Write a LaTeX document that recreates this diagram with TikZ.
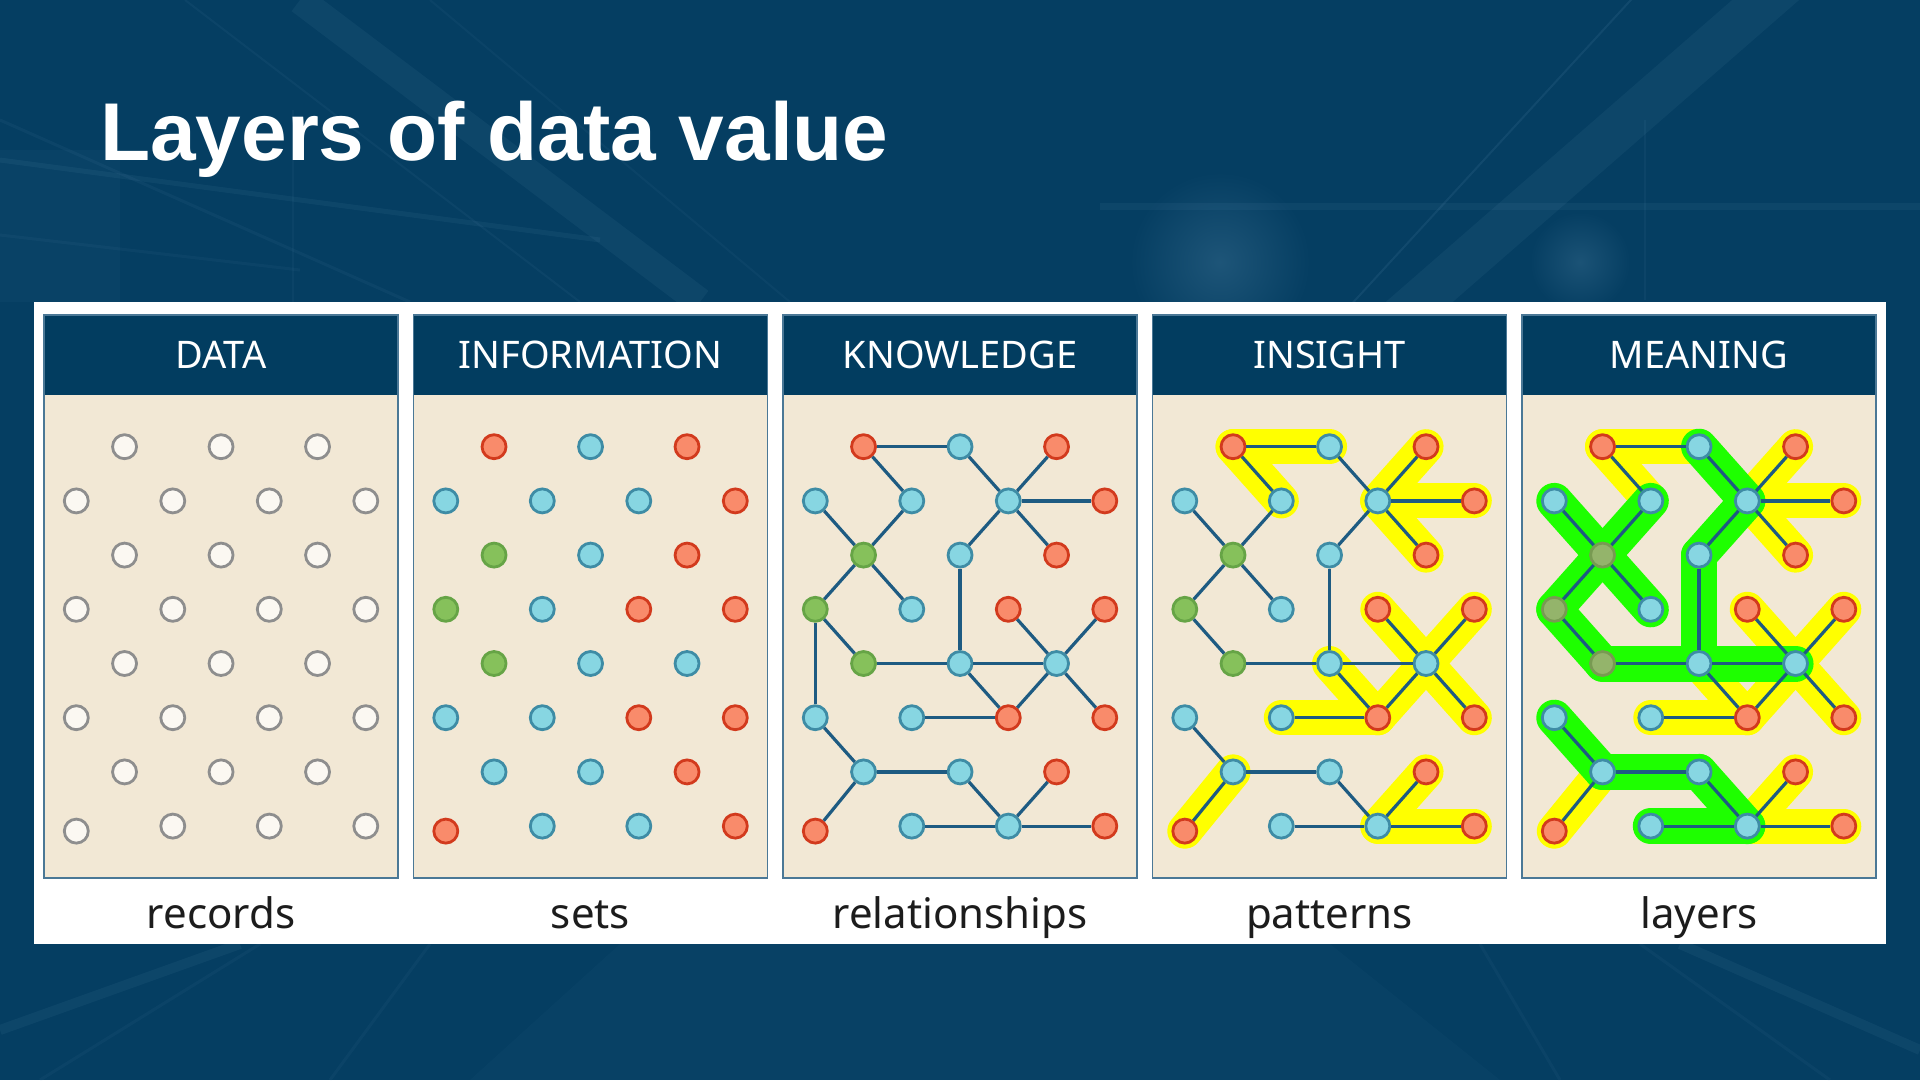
\documentclass[tikz,border=0pt]{standalone}
\usepackage{fontspec}
\setmainfont{Noto Sans}
\newfontfamily\titlefont{Liberation Sans}
\definecolor{bgblue}{HTML}{053E62}
\definecolor{streakc}{HTML}{7FB0D0}
\definecolor{hdr}{HTML}{023D60}
\definecolor{paper}{HTML}{F2E8D5}
\definecolor{framec}{HTML}{4B7896}
\definecolor{edgec}{HTML}{1E5B82}
\definecolor{bfill}{HTML}{87D6E2}
\definecolor{bline}{HTML}{3E8CA5}
\definecolor{rfill}{HTML}{F98B6B}
\definecolor{rline}{HTML}{D23A1D}
\definecolor{gfill}{HTML}{86C15B}
\definecolor{gline}{HTML}{66A446}
\definecolor{ofill}{HTML}{94B46B}
\definecolor{oline}{HTML}{789A52}
\definecolor{wfill}{HTML}{FBF8F2}
\definecolor{wline}{HTML}{8E8E8E}
\definecolor{hly}{HTML}{FFFF00}
\definecolor{hlg}{HTML}{1EFF00}
\definecolor{labc}{HTML}{1C1C1C}
\pgfdeclarelayer{panelbg}
\pgfdeclarelayer{hlA}
\pgfdeclarelayer{hlB}
\pgfsetlayers{panelbg,hlA,hlB,main}
\tikzset{
  dot/.style={circle, minimum size=24pt, inner sep=0pt, line width=2.8pt, draw},
  dotw/.style={dot, fill=wfill, draw=wline},
  dotb/.style={dot, fill=bfill, draw=bline},
  dotr/.style={dot, fill=rfill, draw=rline},
  dotg/.style={dot, fill=gfill, draw=gline},
  link/.style={draw=edgec, line width=3.2pt},
  hlyel/.style={draw=hly, line width=35pt, line cap=round, line join=round},
  hlgrn/.style={draw=hlg, line width=36pt, line cap=round, line join=round},
  hdrtext/.style={text=white, font=\fontsize{38}{40}\selectfont, anchor=base, inner sep=0pt},
  labtext/.style={text=labc, font=\fontsize{42}{44}\selectfont, anchor=base, inner sep=0pt},
  streak/.style={draw=streakc, line cap=butt},
}
\def\nodelist{0/1/r,0/3/b,0/5/r,1/0/b,1/2/b,1/4/b,1/6/r,2/1/g,2/3/b,2/5/r,3/0/g,3/2/b,3/4/r,3/6/r,4/1/g,4/3/b,4/5/b,5/0/b,5/2/b,5/4/r,5/6/r,6/1/b,6/3/b,6/5/r,7/0/r,7/2/b,7/4/b,7/6/r}
\def\edgelist{r0c1/r0c3,r0c1/r1c2,r0c3/r1c4,r1c4/r0c5,r1c4/r1c6,r1c4/r2c5,r1c4/r2c3,r1c0/r2c1,r1c2/r2c1,r2c1/r3c0,r2c1/r3c2,r3c0/r4c1,r4c1/r4c3,r2c3/r4c3,r4c3/r4c5,r4c3/r5c4,r3c4/r4c5,r3c6/r4c5,r4c5/r5c4,r4c5/r5c6,r5c2/r5c4,r5c0/r6c1,r6c1/r6c3,r6c1/r7c0,r6c3/r7c4,r6c5/r7c4,r7c2/r7c4,r7c4/r7c6}
\def\yellowlist{r0c1/r0c3,r0c1/r1c2,r1c4/r0c5,r1c4/r1c6,r1c4/r2c5,r3c4/r4c5,r3c6/r4c5,r4c5/r5c4,r4c5/r5c6,r4c3/r5c4,r5c2/r5c4,r6c1/r7c0,r7c4/r6c5,r7c4/r7c6}
\def\greenlist{r0c3/r1c4,r1c4/r2c3,r2c3/r4c3,r1c0/r2c1,r1c2/r2c1,r2c1/r3c2,r2c1/r3c0,r3c0/r4c1,r4c1/r4c3,r4c3/r4c5,r5c0/r6c1,r6c1/r6c3,r6c3/r7c4,r7c2/r7c4}
% panel frame: #1 name prefix, #2 left x, #3 header, #4 label
\newcommand\panelframe[4]{%
  \begin{pgfonlayer}{panelbg}
    \fill[paper] (#2,315) rectangle ++(354,563);
    \fill[hdr] (#2,315) rectangle ++(354,80);
    \draw[framec, line width=1.6pt] (#2,315) rectangle ++(354,563);
  \end{pgfonlayer}
  \node[hdrtext] (#1head) at (#2+177,368) {#3};
  \node[labtext] (#1lab) at (#2+177,928) {#4};
}
% graph nodes: #1 prefix, #2 left x
\newcommand\graphnodes[2]{%
  \foreach \r/\c/\t in \nodelist {
    \pgfmathsetmacro\xx{#2+32.3+\c*48.25}
    \pgfmathsetmacro\yy{446.7+\r*54.2+(\r==7)*(\c==0)*5}
    \node[dot\t] (#1r\r c\c) at (\xx,\yy) {};
  }%
}
\newcommand\graphedges[1]{%
  \foreach \a/\b in \edgelist {\draw[link] (#1\a) -- (#1\b);}%
}
\newcommand\graphyellow[1]{%
  \begin{pgfonlayer}{hlA}
    \foreach \a/\b in \yellowlist {\draw[hlyel] (#1\a.center) -- (#1\b.center);}
  \end{pgfonlayer}%
}
\newcommand\graphgreen[1]{%
  \begin{pgfonlayer}{hlB}
    \foreach \a/\b in \greenlist {\draw[hlgrn] (#1\a.center) -- (#1\b.center);}
  \end{pgfonlayer}%
}
\begin{document}
\begin{tikzpicture}[x=1pt, y=-1pt]
\useasboundingbox (0,0) rectangle (1920,1080);
\begin{pgfonlayer}{panelbg}
  % background photo impression
  \fill[bgblue] (0,0) rectangle (1920,1080);
  \shade[inner color=bgblue!80!streakc, outer color=bgblue] (1220,262) circle (90);
  \shade[inner color=bgblue!82!streakc, outer color=bgblue] (1580,262) circle (50);
  \draw[streak, opacity=.07, line width=44pt] (1800,-30) -- (1215,480);
  \draw[streak, opacity=.10, line width=2pt] (1640,-10) -- (1190,480);
  \draw[streak, opacity=.07, line width=7pt] (1100,206) -- (1920,206);
  \draw[streak, opacity=.06, line width=2pt] (1645,120) -- (1645,300);
  \draw[streak, opacity=.06, line width=3pt] (0,120) -- (410,302);
  \draw[streak, opacity=.06, line width=2pt] (185,0) -- (580,302);
  \draw[streak, opacity=.07, line width=28pt] (300,0) -- (700,302);
  \draw[streak, opacity=.05, line width=2pt] (430,0) -- (790,302);
  \draw[streak, opacity=.07, line width=5pt] (0,160) -- (600,240);
  \draw[streak, opacity=.05, line width=3pt] (0,235) -- (300,270);
  \draw[streak, opacity=.05, line width=2pt] (293,110) -- (293,302);
  \fill[streakc, opacity=.04] (0,150) rectangle (120,302);
  \draw[streak, opacity=.07, line width=10pt] (0,1030) -- (240,944);
  \draw[streak, opacity=.05, line width=3pt] (40,1080) -- (260,944);
  \draw[streak, opacity=.05, line width=3pt] (330,1080) -- (430,944);
  \draw[streak, opacity=.07, line width=10pt] (1920,1050) -- (1680,944);
  \draw[streak, opacity=.05, line width=3pt] (1830,1080) -- (1640,944);
  \draw[streak, opacity=.05, line width=3pt] (1560,1080) -- (1480,944);
  \fill[streakc, opacity=.03] (620,944) -- (1330,944) -- (1500,1080) -- (470,1080) -- cycle;
  % white backdrop
  \fill[white] (34,302) rectangle (1886,944);
\end{pgfonlayer}
\node[text=white, font=\titlefont\bfseries\fontsize{82}{90}\selectfont, anchor=base west, inner sep=0pt] (title) at (100,160) {Layers of data value};
% DATA
\panelframe{D}{44}{DATA}{records}
\foreach \r/\c/\t in \nodelist {
  \pgfmathsetmacro\xx{44+32.3+\c*48.25}
  \pgfmathsetmacro\yy{446.7+\r*54.2+(\r==7)*(\c==0)*5}
  \node[dotw] (Dr\r c\c) at (\xx,\yy) {};
}
% INFORMATION
\panelframe{F}{413.5}{INFORMATION}{sets}
\graphnodes{F}{413.5}
% KNOWLEDGE
\panelframe{K}{783}{KNOWLEDGE}{relationships}
\graphnodes{K}{783}
\graphedges{K}
\draw[link] (Kr3c0) -- (Kr5c0);
% INSIGHT
\panelframe{S}{1152.5}{INSIGHT}{patterns}
\graphnodes{S}{1152.5}
\graphedges{S}
\graphyellow{S}
% MEANING
\panelframe{M}{1522}{MEANING}{layers}
\begin{scope}[dotg/.style={dot, fill=ofill, draw=oline}]
\graphnodes{M}{1522}
\end{scope}
\graphedges{M}
\graphyellow{M}
\graphgreen{M}
\end{tikzpicture}
\end{document}
